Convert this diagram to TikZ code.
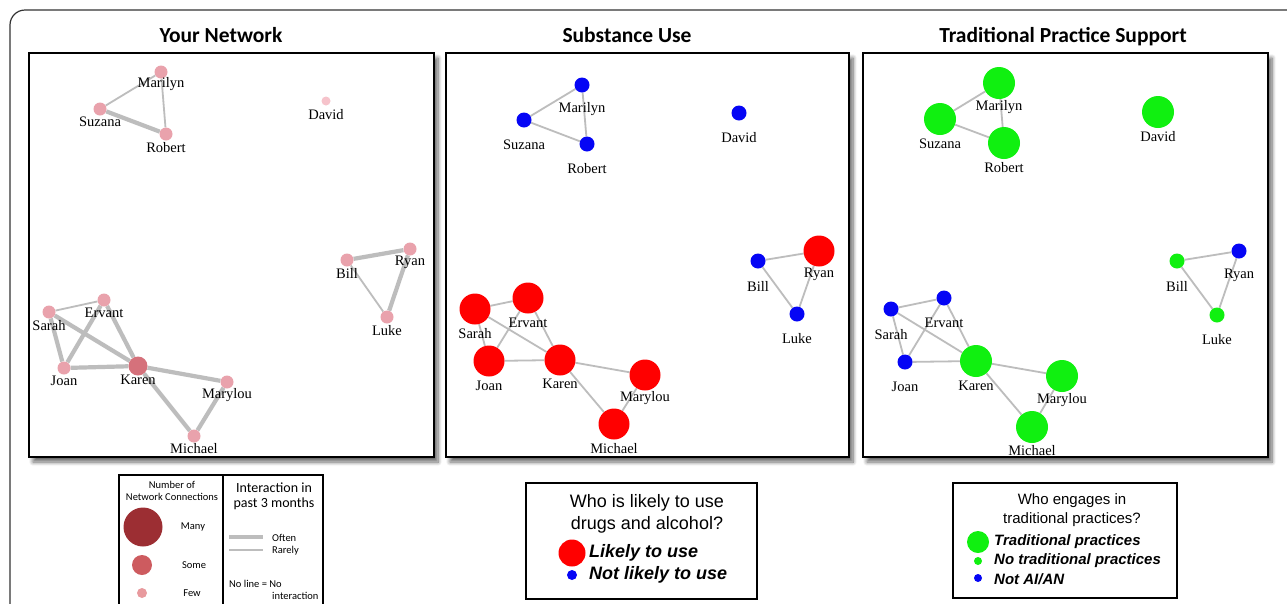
\documentclass[tikz,border=0pt]{standalone}
\usepackage{fontspec}
\setmainfont{Liberation Serif}
\newfontfamily\titlefont{Carlito}
\newfontfamily\arialfont{Liberation Sans}
\usetikzlibrary{shadows,shadows.blur}
\pgfdeclarelayer{bglayer}
\pgfdeclarelayer{edgelayer}
\pgfsetlayers{bglayer,edgelayer,main}
\definecolor{pinkn}{HTML}{E9A2AC}
\definecolor{pinkk}{HTML}{D5717B}
\definecolor{pinkd}{HTML}{F6C3CB}
\definecolor{redn}{HTML}{FF0000}
\definecolor{bluen}{HTML}{0505F5}
\definecolor{greenn}{HTML}{10F010}
\definecolor{edgegray}{HTML}{BDBDBD}
\definecolor{many}{HTML}{9C2E33}
\definecolor{some}{HTML}{CD5B5F}
\definecolor{few}{HTML}{E89A9E}
\tikzset{
  dot/.style={circle, inner sep=0pt, draw=none},
  pk/.style={dot, fill=pinkn, minimum size=13pt},
  bl/.style={dot, fill=bluen, minimum size=15pt},
  rd/.style={dot, fill=redn, minimum size=31pt},
  gb/.style={dot, fill=greenn, minimum size=32pt},
  gs/.style={dot, fill=greenn, minimum size=15pt},
  lab/.style={font=\fontsize{14.5}{16}\selectfont, inner sep=0pt},
  ttl/.style={font=\titlefont\bfseries\fontsize{21.5}{23}\selectfont, anchor=base, inner sep=0pt},
  panel/.style={draw=black, line width=2pt, fill=white,
     blur shadow={shadow xshift=4pt, shadow yshift=-5pt, shadow blur radius=4pt,
       shadow blur steps=8, shadow opacity=60}},
  thk/.style={draw=edgegray, line width=4.2pt},
  thn/.style={draw=edgegray, line width=1.8pt},
  lgbox/.style={draw=black, line width=1.6pt},
  small/.style={font=\titlefont\fontsize{10.5}{12}\selectfont, inner sep=0pt},
  mid/.style={font=\titlefont\fontsize{14}{16}\selectfont, inner sep=0pt},
  lgq/.style={font=\arialfont\fontsize{18}{20}\selectfont, inner sep=0pt},
  lgi/.style={font=\arialfont\bfseries\itshape\fontsize{18}{20}\selectfont, inner sep=0pt, anchor=west},
  lgq3/.style={font=\arialfont\fontsize{15}{17}\selectfont, inner sep=0pt},
  lgi3/.style={font=\arialfont\bfseries\itshape\fontsize{15}{17}\selectfont, inner sep=0pt, anchor=west},
}
\begin{document}
\begin{tikzpicture}[x=1pt,y=-1pt]
\useasboundingbox (0,0) rectangle (1287,603);
% outer frame
\draw[line width=1.2pt, black!80, rounded corners=15pt] (10,610) -- (10,10) -- (1295,10);

% titles
\node[ttl] (t1) at (221,42) {Your Network};
\node[ttl] (t2) at (627,42) {Substance Use};
\node[ttl] (t3) at (1063,42) {Traditional Practice Support};

% panels
\begin{pgfonlayer}{bglayer}
\path[panel] (29,53) rectangle (434,457);
\path[panel] (446,53) rectangle (849,457);
\path[panel] (863,53) rectangle (1268,457);
\end{pgfonlayer}

% ---------- Panel 1 ----------
\node[pk] (a-mar) at (161,72) {};   \node[lab] (a-mar-l) at (161,84) {Marilyn};
\node[pk] (a-suz) at (100,109) {};  \node[lab] (a-suz-l) at (100,122) {Suzana};
\node[pk] (a-rob) at (166,134) {};  \node[lab] (a-rob-l) at (166,148) {Robert};
\node[dot, fill=pinkd, minimum size=9pt] (a-dav) at (326,101) {}; \node[lab] (a-dav-l) at (326,115) {David};
\node[pk] (a-rya) at (410,249) {};  \node[lab] (a-rya-l) at (410,262) {Ryan};
\node[pk] (a-bil) at (347,260) {};  \node[lab] (a-bil-l) at (347,273) {Bill};
\node[pk] (a-luk) at (387,317) {};  \node[lab] (a-luk-l) at (387,331) {Luke};
\node[pk] (a-erv) at (104,300) {};  \node[lab] (a-erv-l) at (104,313) {Ervant};
\node[pk] (a-sar) at (49,312) {};   \node[lab] (a-sar-l) at (49,326) {Sarah};
\node[pk] (a-joa) at (64,368) {};   \node[lab] (a-joa-l) at (64,381) {Joan};
\node[dot, fill=pinkk, minimum size=19pt] (a-kar) at (138,366) {}; \node[lab] (a-kar-l) at (138,380) {Karen};
\node[pk] (a-mlo) at (227,382) {};  \node[lab] (a-mlo-l) at (227,395) {Marylou};
\node[pk] (a-mic) at (194,436) {};  \node[lab] (a-mic-l) at (194,449) {Michael};
\begin{pgfonlayer}{edgelayer}
\draw[thn] (a-mar) -- (a-suz);
\draw[thn] (a-mar) -- (a-rob);
\draw[thk] (a-suz) -- (a-rob);
\draw[thk] (a-bil) -- (a-rya);
\draw[thn] (a-bil) -- (a-luk);
\draw[thk] (a-rya) -- (a-luk);
\draw[thn] (a-sar) -- (a-erv);
\draw[thk] (a-sar) -- (a-joa);
\draw[thk] (a-sar) -- (a-kar);
\draw[thk] (a-erv) -- (a-joa);
\draw[thk] (a-erv) -- (a-kar);
\draw[thk] (a-joa) -- (a-kar);
\draw[thk] (a-kar) -- (a-mlo);
\draw[thk] (a-kar) -- (a-mic);
\draw[thk] (a-mlo) -- (a-mic);
\end{pgfonlayer}

% ---------- Panel 2 ----------
\node[bl] (b-mar) at (582,85) {};   \node[lab] (b-mar-l) at (582,109) {Marilyn};
\node[bl] (b-suz) at (524,120) {};  \node[lab] (b-suz-l) at (524,145) {Suzana};
\node[bl] (b-rob) at (587,144) {};  \node[lab] (b-rob-l) at (587,169) {Robert};
\node[bl] (b-dav) at (739,113) {};  \node[lab] (b-dav-l) at (739,138) {David};
\node[rd] (b-rya) at (819,251) {};  \node[lab] (b-rya-l) at (819,274) {Ryan};
\node[bl] (b-bil) at (758,261) {};  \node[lab] (b-bil-l) at (758,286) {Bill};
\node[bl] (b-luk) at (797,314) {};  \node[lab] (b-luk-l) at (797,339) {Luke};
\node[rd] (b-sar) at (475,309) {};  \node[lab] (b-sar-l) at (475,334) {Sarah};
\node[rd] (b-erv) at (528,298) {};  \node[lab] (b-erv-l) at (528,323) {Ervant};
\node[rd] (b-joa) at (489,361) {};  \node[lab] (b-joa-l) at (489,386) {Joan};
\node[rd] (b-kar) at (560,360) {};  \node[lab] (b-kar-l) at (560,384) {Karen};
\node[rd] (b-mlo) at (645,375) {};  \node[lab] (b-mlo-l) at (645,398) {Marylou};
\node[rd] (b-mic) at (614,424) {};  \node[lab] (b-mic-l) at (614,449) {Michael};
\begin{pgfonlayer}{edgelayer}
\draw[thn] (b-mar) -- (b-suz);
\draw[thn] (b-mar) -- (b-rob);
\draw[thn] (b-suz) -- (b-rob);
\draw[thn] (b-bil) -- (b-rya);
\draw[thn] (b-bil) -- (b-luk);
\draw[thn] (b-rya) -- (b-luk);
\draw[thn] (b-sar) -- (b-erv);
\draw[thn] (b-sar) -- (b-joa);
\draw[thn] (b-sar) -- (b-kar);
\draw[thn] (b-erv) -- (b-joa);
\draw[thn] (b-erv) -- (b-kar);
\draw[thn] (b-joa) -- (b-kar);
\draw[thn] (b-kar) -- (b-mlo);
\draw[thn] (b-kar) -- (b-mic);
\draw[thn] (b-mlo) -- (b-mic);
\end{pgfonlayer}

% ---------- Panel 3 ----------
\node[gb] (c-mar) at (999,83) {};   \node[lab] (c-mar-l) at (999,107) {Marilyn};
\node[gb] (c-suz) at (940,119) {};  \node[lab] (c-suz-l) at (940,144) {Suzana};
\node[gb] (c-rob) at (1004,143) {}; \node[lab] (c-rob-l) at (1004,168) {Robert};
\node[gb] (c-dav) at (1158,112) {}; \node[lab] (c-dav-l) at (1158,137) {David};
\node[bl] (c-rya) at (1239,251) {}; \node[lab] (c-rya-l) at (1239,275) {Ryan};
\node[gs] (c-bil) at (1177,261) {}; \node[lab] (c-bil-l) at (1177,286) {Bill};
\node[gs] (c-luk) at (1217,315) {}; \node[lab] (c-luk-l) at (1217,340) {Luke};
\node[bl] (c-sar) at (891,309) {};  \node[lab] (c-sar-l) at (891,335) {Sarah};
\node[bl] (c-erv) at (944,298) {};  \node[lab] (c-erv-l) at (944,323) {Ervant};
\node[bl] (c-joa) at (905,362) {};  \node[lab] (c-joa-l) at (905,387) {Joan};
\node[gb] (c-kar) at (976,361) {};  \node[lab] (c-kar-l) at (976,386) {Karen};
\node[gb] (c-mlo) at (1062,376) {}; \node[lab] (c-mlo-l) at (1062,400) {Marylou};
\node[gb] (c-mic) at (1032,427) {}; \node[lab] (c-mic-l) at (1032,451) {Michael};
\begin{pgfonlayer}{edgelayer}
\draw[thn] (c-mar) -- (c-suz);
\draw[thn] (c-mar) -- (c-rob);
\draw[thn] (c-suz) -- (c-rob);
\draw[thn] (c-bil) -- (c-rya);
\draw[thn] (c-bil) -- (c-luk);
\draw[thn] (c-rya) -- (c-luk);
\draw[thn] (c-sar) -- (c-erv);
\draw[thn] (c-sar) -- (c-joa);
\draw[thn] (c-sar) -- (c-kar);
\draw[thn] (c-erv) -- (c-joa);
\draw[thn] (c-erv) -- (c-kar);
\draw[thn] (c-joa) -- (c-kar);
\draw[thn] (c-kar) -- (c-mlo);
\draw[thn] (c-kar) -- (c-mic);
\draw[thn] (c-mlo) -- (c-mic);
\end{pgfonlayer}

% ---------- Legend 1 ----------
\draw[lgbox] (119,612) -- (119,475) -- (323,475) -- (323,612);
\draw[lgbox] (223,475) -- (223,612);
\node[small] (l1a) at (172,485) {Number of};
\node[small] (l1b) at (172,497) {Network Connections};
\node[dot, fill=many, minimum size=39pt] (l1many) at (143,527) {};
\node[small] (l1manyt) at (193,527) {Many};
\node[dot, fill=some, minimum size=20pt] (l1some) at (142,565) {};
\node[small] (l1somet) at (194,565) {Some};
\node[dot, fill=few, minimum size=10pt] (l1few) at (142,593) {};
\node[small] (l1fewt) at (192,593) {Few};
\node[mid] (l1c) at (274,488) {Interaction in};
\node[mid] (l1d) at (274,504) {past 3 months};
\coordinate (of1) at (229,537); \coordinate (of2) at (263,537);
\coordinate (ra1) at (229,550); \coordinate (ra2) at (263,550);
\draw[edgegray, line width=4pt] (of1) -- (of2);
\draw[edgegray, line width=1.8pt] (ra1) -- (ra2);
\node[small, anchor=west] (l1often) at (272,538) {Often};
\node[small, anchor=west] (l1rare) at (272,551) {Rarely};
\node[small, anchor=west] (l1no) at (229,584) {No line = No};
\node[small, anchor=west] (l1int) at (272,596) {interaction};

% ---------- Legend 2 ----------
\draw[lgbox] (526,483) rectangle (757,599);
\node[lgq] (l2a) at (647,503) {Who is likely to use};
\node[lgq] (l2b) at (647,525) {drugs and alcohol?};
\node[dot, fill=redn, minimum size=27pt] (l2red) at (572,553) {};
\node[lgi] (l2redt) at (589,553) {Likely to use};
\node[dot, fill=bluen, minimum size=10pt] (l2blue) at (572,575) {};
\node[lgi] (l2bluet) at (589,575) {Not likely to use};

% ---------- Legend 3 ----------
\draw[lgbox] (953,483) rectangle (1177,598);
\node[lgq3] (l3a) at (1072,501) {Who engages in};
\node[lgq3] (l3b) at (1072,520) {traditional practices?};
\node[dot, fill=greenn, minimum size=22pt] (l3g) at (978,542) {};
\node[lgi3] (l3gt) at (994,542) {Traditional practices};
\node[dot, fill=greenn, minimum size=8pt] (l3s) at (978,561) {};
\node[lgi3] (l3st) at (994,561) {No traditional practices};
\node[dot, fill=bluen, minimum size=8pt] (l3b2) at (978,578) {};
\node[lgi3] (l3bt) at (994,579) {Not AI/AN};
\end{tikzpicture}
\end{document}
